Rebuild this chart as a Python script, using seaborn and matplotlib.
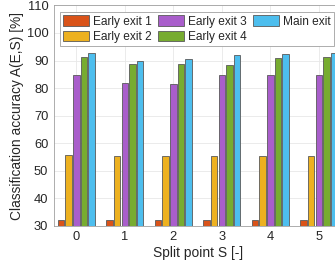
import pandas as pd
import seaborn as sns
import matplotlib.pyplot as plt

split_points = ["0", "1", "2", "3", "4", "5"]
exits = ["Early exit 1", "Early exit 2", "Early exit 3", "Early exit 4", "Main exit"]
early_exit_1 = [32.1, 32.1, 32.1, 32.1, 32.1, 32.1]
early_exit_2 = [55.6, 55.2, 55.5, 55.5, 55.5, 55.5]
early_exit_3 = [84.6, 81.7, 81.3, 84.6, 84.6, 84.6]
early_exit_4 = [91.1, 88.6, 88.6, 88.3, 90.8, 91.1]
main_exit = [92.6, 89.7, 90.5, 91.9, 92.2, 92.6]
colors = ["#D95319", "#EDB120", "#A95ECB", "#77AC30", "#4DBEEE"]

rows = []
for name, vals in zip(exits, [early_exit_1, early_exit_2, early_exit_3, early_exit_4, main_exit]):
    for s, v in zip(split_points, vals):
        rows.append({"split": s, "exit": name, "acc": v})
df = pd.DataFrame(rows)

sns.set_style("white")
plt.rcParams["font.family"] = ["Liberation Sans", "DejaVu Sans"]

fig = plt.figure(figsize=(3.35, 2.71), dpi=100)
ax = fig.add_axes([0.161, 0.167, 0.863, 0.813])

sns.barplot(data=df, x="split", y="acc", hue="exit", hue_order=exits,
            palette=colors, width=0.78, gap=0.14, edgecolor="0.35",
            linewidth=0.6, saturation=1, ax=ax)

ax.set_ylim(30, 110)
ax.set_xlim(-0.46, 5.5)
ax.set_yticks(range(30, 111, 10))
ax.grid(True, color="#E8E8E8", linewidth=0.6)
ax.set_axisbelow(True)
for sp in ax.spines.values():
    sp.set_color("#A0A0A0")
    sp.set_linewidth(0.6)
ax.tick_params(direction="in", length=2, colors="#A0A0A0", labelcolor="#262626",
               labelsize=9.3, pad=4)
ax.set_xlabel("Split point S [-]", fontsize=9.9, color="#262626", labelpad=2)
ax.set_ylabel("Classification accuracy A(E,S) [%]", fontsize=9.9, color="#262626", labelpad=2)

leg = ax.legend(loc="upper left", bbox_to_anchor=(0.02, 0.97), ncol=3,
                fontsize=8.6, handlelength=2.2, handleheight=0.95, handletextpad=0.28,
                columnspacing=0.55, labelspacing=0.25, borderpad=0.28,
                fancybox=False, framealpha=1, edgecolor="#A0A0A0", borderaxespad=0)
leg.get_frame().set_linewidth(0.6)

fig.savefig("out.png", dpi=100)
